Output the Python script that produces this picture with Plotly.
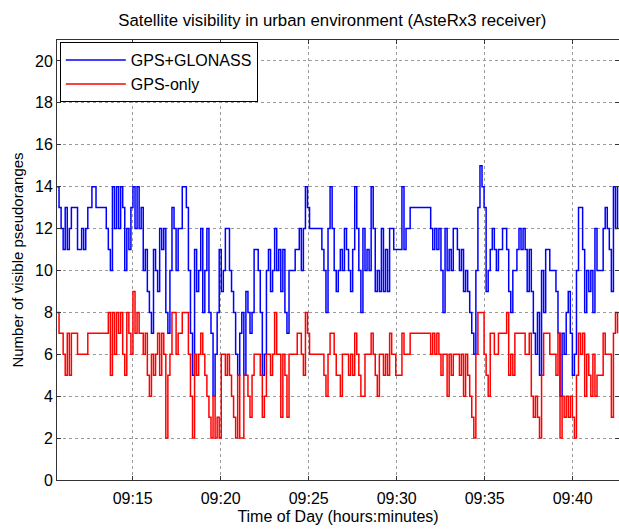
import pandas as pd
import plotly.graph_objects as go

# Sample times (one reading every 7 s starting 09:10:42)
start_time = "2012-01-01 09:10:42"
n_samples = 274

gps_glonass = [
    14, 13, 12, 11, 13, 11, 12, 13, 13, 13,
    11, 11, 12, 11, 12, 13, 13, 14, 14, 13,
    13, 13, 13, 13, 12, 11, 10, 14, 12, 14,
    12, 14, 13, 10, 12, 11, 13, 14, 12, 14,
    12, 13, 10, 11, 9, 8, 7, 11,
    10, 9, 12, 11, 12, 8, 7, 10, 13, 12,
    10, 12, 12, 14, 14, 13, 10, 7, 5, 11,
    9, 10, 12, 8, 10, 12, 8, 7, 4, 6,
    8, 11, 9, 10, 12, 12, 10, 9, 8, 6,
    5, 7, 8, 5, 9, 8, 7,
    8, 11, 11, 10, 8, 5,
    6, 10, 11, 9, 10, 12, 10, 11, 9, 11,
    8, 7, 10, 10, 10, 11, 11, 12, 10, 12,
    14, 13, 12, 12, 12, 12, 12, 12, 11, 10,
    8, 12, 14, 12, 10, 9, 10, 11, 10, 12,
    11, 10, 9, 11, 14, 12, 10, 8, 12, 10,
    11, 10, 14, 12, 9, 10, 9, 12, 9, 11,
    9, 12, 12, 11, 11, 11, 11, 14, 11, 12,
    12, 13, 13, 13, 13, 13, 13, 13, 13, 13,
    13, 12, 11, 12, 11, 12, 10, 8,
    12, 10, 11, 10, 12, 12, 11, 10, 11, 9,
    10, 9, 8, 7, 6, 10, 13, 15, 14, 13,
    9, 10, 11, 12, 11, 10, 11, 11, 12, 12,
    11, 9, 8, 10, 10, 11, 12, 11, 12, 11,
    9, 11, 9, 7,
    6, 8, 5, 10, 8, 11, 11, 10, 10, 10,
    9, 7, 4, 7, 6, 8, 9, 7, 5, 6,
    10, 13, 13, 11, 8, 10, 9, 10, 8, 12,
    10, 10, 10, 12, 13, 12, 11, 9, 14, 12,
    14,
]

gps_only = [
    8, 7, 7, 6, 5, 7, 5, 7, 7, 7,
    6, 6, 6, 6, 6, 7, 7, 7, 7, 7,
    7, 7, 7, 7, 7, 8, 5, 8, 6, 8,
    7, 8, 6, 5, 8, 7, 6, 9, 7, 8,
    7, 7, 6, 7, 5, 4, 6, 5,
    6, 7, 5, 7, 6, 2, 5, 6, 8, 8,
    6, 7, 7, 8, 8, 8, 6, 4, 2, 6,
    5, 6, 7, 6, 5, 4, 3, 2, 4, 2,
    3, 2, 6, 6, 5, 6, 5, 4, 3, 2,
    5, 2, 2, 5, 5, 4, 3,
    5, 6, 6, 6, 5, 3,
    4, 6, 6, 5, 6, 8, 6, 6, 3, 6,
    5, 3, 6, 6, 6, 6, 7, 7, 6, 5,
    8, 7, 6, 6, 6, 6, 6, 6, 6, 5,
    4, 6, 7, 7, 6, 5, 5, 4, 6, 6,
    6, 5, 6, 5, 7, 6, 5, 4, 4, 6,
    6, 6, 7, 6, 5, 4, 6, 6, 5, 6,
    5, 7, 6, 6, 5, 5, 5, 7, 6, 6,
    6, 7, 7, 7, 7, 7, 7, 7, 7, 7,
    7, 6, 7, 6, 7, 6, 5, 6,
    6, 4, 6, 5, 6, 6, 6, 5, 6, 4,
    6, 5, 4, 3, 2, 6, 8, 8, 8, 6,
    5, 4, 7, 7, 6, 6, 7, 7, 7, 7,
    8, 5, 6, 5, 7, 7, 7, 7, 7, 6,
    6, 7, 4, 3,
    4, 3, 2, 5, 7, 7, 7, 6, 6, 6,
    5, 7, 2, 4, 3, 4, 3, 4, 3, 2,
    5, 7, 6, 7, 4, 6, 5, 4, 6, 4,
    5, 5, 5, 7, 6, 6, 6, 3, 7, 8,
    7,
]

times = pd.date_range(start_time, periods=n_samples, freq="7s")

series_names = ["GPS+GLONASS", "GPS-only"]
series_colors = ["#0000ff", "#ff0000"]

FONT = "Liberation Sans, Arial, sans-serif"

fig = go.Figure()
for name, vals, col in zip(series_names, [gps_glonass, gps_only], series_colors):
    fig.add_trace(go.Scatter(
        x=times, y=vals, mode="lines", name=name,
        line=dict(color=col, width=1.5, shape="hv"),
    ))

fig.update_layout(
    width=619, height=529,
    margin=dict(l=57, r=0, t=40, b=49, autoexpand=False),
    paper_bgcolor="white", plot_bgcolor="white",
    font=dict(family=FONT, size=15, color="black"),
    title=dict(text="Satellite visibility in urban environment (AsteRx3 receiver)",
               x=0.537, xanchor="center", y=0.962, yanchor="middle",
               font=dict(size=16.8, family=FONT, color="black")),
    showlegend=True,
    legend=dict(x=0.005, y=0.995, xanchor="left", yanchor="top",
                bgcolor="white", bordercolor="black", borderwidth=1,
                font=dict(size=16, family=FONT, color="black"),
                tracegroupgap=0, itemwidth=60),
)

fig.update_xaxes(
    type="date", automargin=False,
    range=["2012-01-01 09:10:42", "2012-01-01 09:42:38"],
    tick0="2012-01-01 09:15:00", dtick=5 * 60 * 1000,
    tickformat="%H:%M",
    showgrid=True, gridcolor="#9a9a9a", griddash="dot", gridwidth=1,
    showline=True, linecolor="#333333", linewidth=1, mirror="ticks",
    ticks="inside", ticklen=4, tickcolor="#333333",
    tickfont=dict(size=16, family=FONT), ticklabelstandoff=4,
    title=dict(text="Time of Day (hours:minutes)", font=dict(size=16, family=FONT), standoff=4),
    zeroline=False,
)
fig.update_yaxes(
    range=[0, 21], tick0=0, dtick=2, automargin=False,
    showgrid=True, gridcolor="#9a9a9a", griddash="dot", gridwidth=1,
    showline=True, linecolor="#333333", linewidth=1, mirror="ticks",
    ticks="inside", ticklen=4, tickcolor="#333333",
    tickfont=dict(size=16, family=FONT),
    title=dict(text="Number of visible pseudoranges", font=dict(size=15, family=FONT), standoff=7),
    zeroline=False,
)

fig.write_html("out.html", config={"displayModeBar": False},
               post_script="document.body.style.margin='0';")
